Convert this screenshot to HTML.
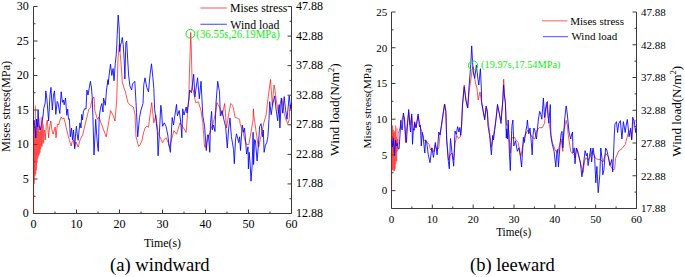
<!DOCTYPE html>
<html><head><meta charset="utf-8"><style>
html,body{margin:0;padding:0;background:#fff;}
svg{display:block;}
text{font-family:"Liberation Serif", serif;fill:#000;}
</style></head><body>
<svg width="685" height="277" viewBox="0 0 685 277">
<rect width="685" height="277" fill="#fff"/>
<path d="M33.5 6.5V213.5H291.5V6.5" fill="none" stroke="#3a3a3a" stroke-width="1"/>
<line x1="33.5" y1="213.5" x2="33.5" y2="209.5" stroke="#3a3a3a"/>
<line x1="55" y1="213.5" x2="55" y2="211.5" stroke="#3a3a3a"/>
<line x1="76.5" y1="213.5" x2="76.5" y2="209.5" stroke="#3a3a3a"/>
<line x1="98" y1="213.5" x2="98" y2="211.5" stroke="#3a3a3a"/>
<line x1="119.5" y1="213.5" x2="119.5" y2="209.5" stroke="#3a3a3a"/>
<line x1="141" y1="213.5" x2="141" y2="211.5" stroke="#3a3a3a"/>
<line x1="162.5" y1="213.5" x2="162.5" y2="209.5" stroke="#3a3a3a"/>
<line x1="184" y1="213.5" x2="184" y2="211.5" stroke="#3a3a3a"/>
<line x1="205.5" y1="213.5" x2="205.5" y2="209.5" stroke="#3a3a3a"/>
<line x1="227" y1="213.5" x2="227" y2="211.5" stroke="#3a3a3a"/>
<line x1="248.5" y1="213.5" x2="248.5" y2="209.5" stroke="#3a3a3a"/>
<line x1="270" y1="213.5" x2="270" y2="211.5" stroke="#3a3a3a"/>
<line x1="291.5" y1="213.5" x2="291.5" y2="209.5" stroke="#3a3a3a"/>
<line x1="33.5" y1="196.25" x2="35.5" y2="196.25" stroke="#3a3a3a"/>
<line x1="33.5" y1="179" x2="37.5" y2="179" stroke="#3a3a3a"/>
<line x1="33.5" y1="161.75" x2="35.5" y2="161.75" stroke="#3a3a3a"/>
<line x1="33.5" y1="144.5" x2="37.5" y2="144.5" stroke="#3a3a3a"/>
<line x1="33.5" y1="127.25" x2="35.5" y2="127.25" stroke="#3a3a3a"/>
<line x1="33.5" y1="110" x2="37.5" y2="110" stroke="#3a3a3a"/>
<line x1="33.5" y1="92.75" x2="35.5" y2="92.75" stroke="#3a3a3a"/>
<line x1="33.5" y1="75.5" x2="37.5" y2="75.5" stroke="#3a3a3a"/>
<line x1="33.5" y1="58.25" x2="35.5" y2="58.25" stroke="#3a3a3a"/>
<line x1="33.5" y1="41" x2="37.5" y2="41" stroke="#3a3a3a"/>
<line x1="33.5" y1="23.75" x2="35.5" y2="23.75" stroke="#3a3a3a"/>
<line x1="33.5" y1="6.5" x2="37.5" y2="6.5" stroke="#3a3a3a"/>
<line x1="291.5" y1="198.71" x2="289.5" y2="198.71" stroke="#3a3a3a"/>
<line x1="291.5" y1="183.93" x2="287.5" y2="183.93" stroke="#3a3a3a"/>
<line x1="291.5" y1="169.14" x2="289.5" y2="169.14" stroke="#3a3a3a"/>
<line x1="291.5" y1="154.36" x2="287.5" y2="154.36" stroke="#3a3a3a"/>
<line x1="291.5" y1="139.57" x2="289.5" y2="139.57" stroke="#3a3a3a"/>
<line x1="291.5" y1="124.79" x2="287.5" y2="124.79" stroke="#3a3a3a"/>
<line x1="291.5" y1="110" x2="289.5" y2="110" stroke="#3a3a3a"/>
<line x1="291.5" y1="95.21" x2="287.5" y2="95.21" stroke="#3a3a3a"/>
<line x1="291.5" y1="80.43" x2="289.5" y2="80.43" stroke="#3a3a3a"/>
<line x1="291.5" y1="65.64" x2="287.5" y2="65.64" stroke="#3a3a3a"/>
<line x1="291.5" y1="50.86" x2="289.5" y2="50.86" stroke="#3a3a3a"/>
<line x1="291.5" y1="36.07" x2="287.5" y2="36.07" stroke="#3a3a3a"/>
<line x1="291.5" y1="21.29" x2="289.5" y2="21.29" stroke="#3a3a3a"/>
<line x1="291.5" y1="6.5" x2="287.5" y2="6.5" stroke="#3a3a3a"/>
<path d="M391.5 12V208.5H636.5V12" fill="none" stroke="#3a3a3a" stroke-width="1"/>
<line x1="391.5" y1="208.5" x2="391.5" y2="204.5" stroke="#3a3a3a"/>
<line x1="411.92" y1="208.5" x2="411.92" y2="206.5" stroke="#3a3a3a"/>
<line x1="432.33" y1="208.5" x2="432.33" y2="204.5" stroke="#3a3a3a"/>
<line x1="452.75" y1="208.5" x2="452.75" y2="206.5" stroke="#3a3a3a"/>
<line x1="473.17" y1="208.5" x2="473.17" y2="204.5" stroke="#3a3a3a"/>
<line x1="493.58" y1="208.5" x2="493.58" y2="206.5" stroke="#3a3a3a"/>
<line x1="514" y1="208.5" x2="514" y2="204.5" stroke="#3a3a3a"/>
<line x1="534.42" y1="208.5" x2="534.42" y2="206.5" stroke="#3a3a3a"/>
<line x1="554.83" y1="208.5" x2="554.83" y2="204.5" stroke="#3a3a3a"/>
<line x1="575.25" y1="208.5" x2="575.25" y2="206.5" stroke="#3a3a3a"/>
<line x1="595.67" y1="208.5" x2="595.67" y2="204.5" stroke="#3a3a3a"/>
<line x1="616.08" y1="208.5" x2="616.08" y2="206.5" stroke="#3a3a3a"/>
<line x1="636.5" y1="208.5" x2="636.5" y2="204.5" stroke="#3a3a3a"/>
<line x1="391.5" y1="190.64" x2="395.5" y2="190.64" stroke="#3a3a3a"/>
<line x1="391.5" y1="172.77" x2="393.5" y2="172.77" stroke="#3a3a3a"/>
<line x1="391.5" y1="154.91" x2="395.5" y2="154.91" stroke="#3a3a3a"/>
<line x1="391.5" y1="137.05" x2="393.5" y2="137.05" stroke="#3a3a3a"/>
<line x1="391.5" y1="119.18" x2="395.5" y2="119.18" stroke="#3a3a3a"/>
<line x1="391.5" y1="101.32" x2="393.5" y2="101.32" stroke="#3a3a3a"/>
<line x1="391.5" y1="83.45" x2="395.5" y2="83.45" stroke="#3a3a3a"/>
<line x1="391.5" y1="65.59" x2="393.5" y2="65.59" stroke="#3a3a3a"/>
<line x1="391.5" y1="47.73" x2="395.5" y2="47.73" stroke="#3a3a3a"/>
<line x1="391.5" y1="29.86" x2="393.5" y2="29.86" stroke="#3a3a3a"/>
<line x1="391.5" y1="12" x2="395.5" y2="12" stroke="#3a3a3a"/>
<line x1="636.5" y1="192.12" x2="634.5" y2="192.12" stroke="#3a3a3a"/>
<line x1="636.5" y1="175.75" x2="632.5" y2="175.75" stroke="#3a3a3a"/>
<line x1="636.5" y1="159.38" x2="634.5" y2="159.38" stroke="#3a3a3a"/>
<line x1="636.5" y1="143" x2="632.5" y2="143" stroke="#3a3a3a"/>
<line x1="636.5" y1="126.63" x2="634.5" y2="126.63" stroke="#3a3a3a"/>
<line x1="636.5" y1="110.25" x2="632.5" y2="110.25" stroke="#3a3a3a"/>
<line x1="636.5" y1="93.88" x2="634.5" y2="93.88" stroke="#3a3a3a"/>
<line x1="636.5" y1="77.5" x2="632.5" y2="77.5" stroke="#3a3a3a"/>
<line x1="636.5" y1="61.13" x2="634.5" y2="61.13" stroke="#3a3a3a"/>
<line x1="636.5" y1="44.75" x2="632.5" y2="44.75" stroke="#3a3a3a"/>
<line x1="636.5" y1="28.38" x2="634.5" y2="28.38" stroke="#3a3a3a"/>
<line x1="636.5" y1="12" x2="632.5" y2="12" stroke="#3a3a3a"/>
<path d="M33.5,213 33.6,205.5 33.96,125.8 34.32,183.7 34.68,126.9 35.04,176.1 35.4,105.5 35.76,174.2 36.12,131.1 36.48,170.2 36.84,120.2 37.2,162.8 37.56,124.5 37.92,158.2 38.28,124.6 38.64,156.1 39,118.7 39.36,154.3 39.72,131.6 40.08,152.8 40.44,129.3 40.8,149.3 41.16,117.2 41.52,146.3 41.88,126.6 42.24,146.6 42.6,116.6 42.96,143.6 43.32,124.5 43.68,143.3 44.04,131.8 44.4,130" fill="none" stroke="#ff0000" stroke-width="0.45" stroke-linejoin="round" stroke-opacity="0.85"/>
<path d="M44.4,130 45.2,140 46.4,123.8 47.3,120 48.6,137.8 49.5,128 50.8,121 51.7,128.9 53.1,134 54.3,130 55.2,127 56,137.8 57.4,124 58.9,124.5 60,120 61.3,117 62.4,119 63.9,118 65.4,123.8 66.8,130.3 68.3,136.1 69.4,140.3 71.2,146 72,142 73.5,140 74.7,147.3 76,142 78.2,147 80,140 82.6,135 86,121 88.7,109.6 90.4,107.9 92,100 93,98 94,97 94.8,110.5 97.4,119.3 99,117 101,122.8 103.6,129.8 106.2,136.8 108,126.3 110.6,110.5 113.2,115.8 115,121 116.7,100 118,58 119.3,44.5 120.6,58 121.5,70 122.3,82 124.6,90 125.3,91.2 127.2,99.7 128,102.6 130,105 133.4,107 135,114 136,136.8 138.6,146.4 140,145 142,140.3 143.5,133 145,128 146.8,126.3 148.5,127.2 150,115 151.7,102.6 152.5,110 153.8,122.8 155.9,114.9 158.1,133.3 159.9,136.8 162.5,142.6 164,140 166,137.7 168,142 169.5,147 170.4,143.8 173.9,130.7 176.5,134.2 180,122.8 183.5,128 186.2,132.4 187.9,108.8 188.8,100 189.5,70 190.4,45 190.7,32.5 191.2,45 191.8,70 192.5,90 193.2,90 195,99.7 195.8,102.6 198.4,101.8 201,110.5 202.8,122.8 204.6,147 205.4,147.3 208,138.5 210.7,129.8 213.3,122.8 216,110.5 216.8,102.6 219.5,107 222.1,115.8 224.7,103.5 226.5,128 228.5,115 230.8,103.5 232.6,105.3 233.6,108.9 235,117.2 236.1,117.5 238,118.6 239.6,119.3 240.1,123.7 243,132.3 245.2,141 246.6,144.6 248.8,144.6 251,132.3 253.1,119.3 253.4,108.9 253.8,115 256,130.9 258.2,146.1 258.9,147 259.6,142.5 261.8,132.3 264,122.2 266.1,115 267.6,101.7 270.5,79.5 272.3,105 274,85 275,90 276.2,100 278.4,113.2 280.6,101.7 282,98.8 284.2,113.2 286.4,120.8 287.8,123.7 289.2,119.3 290,104.6 291.5,110" fill="none" stroke="#ff0000" stroke-width="0.9" stroke-linejoin="round" stroke-opacity="0.75"/>
<path d="M33.5,125 34,120 35,129 35.8,138 36.5,119 37.5,127 38.1,109.6 38.8,124 40.1,130 41.6,124.5 43,116 43.7,108.7 45.2,103 45.8,90.9 47,100 48.6,121 50,95 51,87.4 52.3,110 53.5,95 54.5,90.9 55.8,114.4 57.2,101.4 58,103 59.8,113.5 61.2,91.8 62.4,102.3 63.3,100 64.2,104.8 65.5,98 66.8,115.3 67.7,109 68.5,119.3 69.4,118.8 70.3,136.8 71.5,128 72.5,140 73.5,130 74.7,148.8 75.5,135 76.4,126.3 77.3,135 78.2,140.3 79.1,130 80,122.8 81,128 81.7,114.4 82.5,120 83.4,111.8 84.5,108.8 86,109 86.9,90 88,95 90.4,81.3 91.5,88 92.2,97 93,120 94,155 95,135 95.7,119.3 96.7,135 97.5,145 98.3,151.4 99.2,117.5 100.5,108 101.8,103.5 103,112 103.6,98 105.3,105.3 106.5,90 108,79.5 108.1,84.7 109.5,72 110.5,64.1 111.8,75.5 113.1,68.5 114,80.8 115.3,63.3 116.2,55 116.8,45 117.2,34.3 118.2,15 119.2,28 119.7,51.5 120.5,45 121.5,41.9 122.3,37.5 123.2,44.5 124.2,60 124.9,79 125.8,42.8 126.7,41 127.6,58 128.6,74.9 129.9,86 130.8,88 131.6,90 132.5,84 133.4,83 134.8,81.3 136,102.3 136.5,112.3 137.7,136.8 139.5,117.5 141,110 143,103.5 143.8,84.7 145,77.8 146.8,87.4 148.5,91.8 150,75 151.5,63.8 152.9,77.8 153.8,88.3 154.6,108.8 155.5,115.8 157.3,131.5 158.1,155.8 159,140 160.8,105.3 161.5,110 162.5,126.3 164.3,122.8 166,126.3 167.8,135 169,145 170.4,152.3 171,140 172.2,117.5 173.5,125 174.5,118 176.5,104.4 177.4,115.8 179.2,110.5 180.2,118 181,125 181.8,137.7 182.7,108.8 184,115 186.2,107 187,113 188.8,100 189.7,90 191.4,92.7 193.7,74.3 194.9,97 196.5,85 197.6,77.8 199.3,98.8 201,81.3 202,100 202.8,115.8 204.6,126.3 206.3,150.5 207.5,135 208.5,135 209.8,152.3 210.5,122.8 211.6,111.4 212.4,129.8 213.5,125 215,131.5 216,103 217.7,81.3 219.5,91.8 220.3,115.8 222.1,110.5 223.8,119.3 225.6,126.3 227.3,147.9 228.5,130 230,117.9 231.4,136.7 233.6,149.7 234.3,163.7 235.5,140 236.5,133.8 238.7,142.5 239.6,136.8 240.5,150.5 241.5,135 242.3,125.1 243.7,132.3 244.5,128 245.5,140 246.6,154 248,146.8 248.4,168.9 249.2,152.3 250.2,165 251,181.2 252.2,165 253.1,132.3 253.6,164.5 254.6,139.6 255.4,140.3 256.2,150 257.1,161 258.2,148 259.6,126.6 261.1,123.7 262.5,136.7 263.3,130 264.1,152.3 265.4,145.3 266.8,142.5 267.9,136.7 269,119.3 269.7,101.7 271.2,114.7 272.5,105 274.8,95.9 276,108.9 277.7,120.8 279.1,104.6 279.9,128 281.3,98 282.7,113.2 284.2,96.6 285.6,110.3 287,119.3 289.2,95.9 290.7,108.9 291.5,103" fill="none" stroke="#0000ff" stroke-width="1.0" stroke-linejoin="round" stroke-opacity="0.85"/>
<path d="M391.5,191 391.6,185.4 391.96,126.4 392.32,170.2 392.68,125.2 393.04,169.8 393.4,129.9 393.76,171.3 394.12,132.1 394.48,170.9 394.84,130.9 395.2,169.2 395.56,125.5 395.92,163.8 396.28,137.2 396.64,161.3 397,127.6 397.36,151.5 397.72,139.2 398.08,144.5 398.5,133" fill="none" stroke="#ff0000" stroke-width="0.45" stroke-linejoin="round" stroke-opacity="0.85"/>
<path d="M398.5,133 400,128 401.1,122 402.5,118 403.4,115 404.6,122 405.5,142.5 406.5,130 408.7,112 409.9,125 411.7,116 413.4,130 414.6,123 416,127 418.1,116 420.4,127 422.2,133 424,140 426.5,142 429.2,144.3 430.5,150 432,148 434,152 435.3,145 437,150 438.8,147.8 440,135 441.4,127 443.2,114 444.9,104.3 446,112 446.7,138 448.4,160 450,155 452,153 453.7,160 455,144 456.8,135.4 458.5,138.4 460.3,137.1 461.5,128 462.5,105 464.2,85 466,100 467.7,108 469.1,92 470.8,80 472.2,70 473,66.6 474.3,75.4 475.5,83 476.9,88 478.2,100 480,92 481.7,103 483.5,113 484.7,118 486.1,108 487.5,115 489,128 491.4,146.9 493.1,137 494.9,127 497.5,106 499.2,113 501,120 502.8,100 503.7,79.2 504.5,95 505.4,104 506.5,125 508.2,125 510.3,153 511.7,138 514.6,137.3 516,140 518.1,142.5 520.8,156.5 523.4,142.5 525,135 527.8,130.3 530,133 532,137 534.8,139 537,130 539.5,127.6 542.3,127.6 544.5,123.2 546.7,104.5 548.1,116 549.7,126.8 552.3,142.5 555.8,151.3 557.6,153 561.1,139 562.8,151.3 564,130 566.2,120.3 567.5,126 568.1,133.8 570.7,151.3 572,153 574.2,154.8 575,157.6 576.8,148 578.5,154.1 580.3,162.9 582.4,169.9 583,172.8 584.6,161.1 585.9,157.6 588.1,160.3 589.9,156.8 592.5,150.6 593.8,154.1 595.6,158.5 597.8,159.4 600.4,159.4 603,162 605.6,153.3 608.3,156.8 610,165.5 611.8,168.1 613.6,169.9 614.7,168.8 615.5,158.5 618.7,150.9 621.9,148.7 625.2,144.4 628.4,132.5 630.6,130.3 631.7,139 633.4,121.7 634.9,120.6 636,121" fill="none" stroke="#ff0000" stroke-width="0.9" stroke-linejoin="round" stroke-opacity="0.75"/>
<path d="M391.5,140 392.5,147 393.3,138 394.5,155.8 395.5,140 396.3,146 397.3,143.3 398.3,149 399.1,148.8 400,135 400.8,120.3 401.5,128 402.2,130 403.4,113 404.6,120 405.5,135 406.4,142.5 407.5,125 408.7,109.5 409.9,125.3 410.5,132 411.7,113.9 412.5,144.3 413.4,128.8 414.3,130.3 414.6,121.8 416,128 418.1,113.9 419.5,126.8 420.4,125.3 421.3,146 422.2,132.3 423,135.5 424.8,153 425.6,140 426.5,140.8 428.3,154.8 430,162.7 431.8,147.8 433.5,157.4 435.3,142.5 437.1,154.8 438.8,132 440,135 441.4,125.3 443.2,113 444.4,104.3 445.8,111.3 446.7,140.8 448.4,161.8 449.3,168.8 450.5,138.5 452,153 453.7,166.2 455,131 456.3,134.5 457.6,126.6 458.9,131.9 459.8,127.5 460.7,135.4 461.6,124 462.5,105 464.2,86.8 466,100.8 467.7,107.8 469.1,86 470.8,64.3 471.7,45.9 472.6,62.5 473.4,73 474.7,78.3 476.4,65.2 477.8,78.3 478.8,85 480.4,68.7 481.3,88 481.7,102.5 483.5,113 484.7,120 486.1,106 487.5,111.3 487.9,125 489.6,135.5 491.4,154.8 492.7,135.4 493.5,140 494.8,129.3 496.2,118 497.5,104.3 499.2,113 501,123.5 502.8,100.8 503.6,85 504.3,95 505.4,102.5 506.3,138.1 506.8,128.8 507.5,139 508.2,120 509.4,153 510.3,170.5 511.7,130.3 512,125.3 512.9,120 513.8,146 515.5,140.8 517.3,151.3 519,147.8 520.4,156.5 521.6,167 523.4,137.3 524.3,142.5 526,130.3 526.9,125.3 527.4,120 528.7,133.8 530,128 531.3,142.5 532.2,154.8 533,135.5 533.9,128 534.8,130.3 536.5,139 538.3,120 539.7,111.3 540.9,114.8 541.8,119.2 543.4,98 544.5,117.5 546.4,103 547.4,101.6 548.1,116 548.8,123.2 550.3,104.5 550.8,135.5 552.3,144.3 554.1,151.3 555.8,167 557,150 557.6,149.5 558.4,167 560.2,142.5 561.1,133.8 562,131.4 562.8,147.8 564.7,118.9 566.2,105.9 567.2,113.1 569,132 570.7,139 571.5,135 572.5,132 573,153 574.2,147.8 575,163.8 576.3,148 577.5,151 578.9,156.8 580.3,162 581.9,176.8 582.9,169.9 584,160 585.1,150.6 586.4,155.9 587.3,153.3 588.1,165.5 589.4,156.8 590.8,148 591.6,162 593,148 594.7,158.5 595.8,182.8 596.9,166.4 598.2,192.7 599.8,174.8 600.8,148 602.1,159.4 602.8,174.8 603.9,169.9 605.6,148 606.8,150 608.3,156.8 610,165.5 611.8,159.4 612.7,172 613.8,148 614.3,135 615,123.8 616.5,121.7 617.6,132.5 618.7,123.8 620.4,120.6 621.9,139 623.4,121.7 625.2,132.5 626,126 627.3,119.5 629.1,136.8 630.6,128.2 631.7,140 632.7,117.3 634.3,121.7 635.6,132.5 636,128" fill="none" stroke="#0000ff" stroke-width="1.0" stroke-linejoin="round" stroke-opacity="0.85"/>
<text x="28.7" y="217" text-anchor="end" font-size="12">0</text>
<text x="28.7" y="182.5" text-anchor="end" font-size="12">5</text>
<text x="28.7" y="148" text-anchor="end" font-size="12">10</text>
<text x="28.7" y="113.5" text-anchor="end" font-size="12">15</text>
<text x="28.7" y="79" text-anchor="end" font-size="12">20</text>
<text x="28.7" y="44.5" text-anchor="end" font-size="12">25</text>
<text x="28.7" y="10" text-anchor="end" font-size="12">30</text>
<text x="296.1" y="217" font-size="12">12.88</text>
<text x="296.1" y="187.43" font-size="12">17.88</text>
<text x="296.1" y="157.86" font-size="12">22.88</text>
<text x="296.1" y="128.29" font-size="12">27.88</text>
<text x="296.1" y="98.71" font-size="12">32.88</text>
<text x="296.1" y="69.14" font-size="12">37.88</text>
<text x="296.1" y="39.57" font-size="12">42.88</text>
<text x="296.1" y="10" font-size="12">47.88</text>
<text x="33.5" y="227.5" text-anchor="middle" font-size="12">0</text>
<text x="76.5" y="227.5" text-anchor="middle" font-size="12">10</text>
<text x="119.5" y="227.5" text-anchor="middle" font-size="12">20</text>
<text x="162.5" y="227.5" text-anchor="middle" font-size="12">30</text>
<text x="205.5" y="227.5" text-anchor="middle" font-size="12">40</text>
<text x="248.5" y="227.5" text-anchor="middle" font-size="12">50</text>
<text x="291.5" y="227.5" text-anchor="middle" font-size="12">60</text>
<text x="387.3" y="194.44" text-anchor="end" font-size="11">0</text>
<text x="387.3" y="158.71" text-anchor="end" font-size="11">5</text>
<text x="387.3" y="122.98" text-anchor="end" font-size="11">10</text>
<text x="387.3" y="87.25" text-anchor="end" font-size="11">15</text>
<text x="387.3" y="51.53" text-anchor="end" font-size="11">20</text>
<text x="387.3" y="15.8" text-anchor="end" font-size="11">25</text>
<text x="641.1" y="212.3" font-size="11">17.88</text>
<text x="641.1" y="179.55" font-size="11">22.88</text>
<text x="641.1" y="146.8" font-size="11">27.88</text>
<text x="641.1" y="114.05" font-size="11">32.88</text>
<text x="641.1" y="81.3" font-size="11">37.88</text>
<text x="641.1" y="48.55" font-size="11">42.88</text>
<text x="641.1" y="15.8" font-size="11">47.88</text>
<text x="391.5" y="222.5" text-anchor="middle" font-size="11">0</text>
<text x="432.33" y="222.5" text-anchor="middle" font-size="11">10</text>
<text x="473.17" y="222.5" text-anchor="middle" font-size="11">20</text>
<text x="514" y="222.5" text-anchor="middle" font-size="11">30</text>
<text x="554.83" y="222.5" text-anchor="middle" font-size="11">40</text>
<text x="595.67" y="222.5" text-anchor="middle" font-size="11">50</text>
<text x="636.5" y="222.5" text-anchor="middle" font-size="11">60</text>
<text x="143.9" y="247.3" font-size="12.6" textLength="37.2" lengthAdjust="spacingAndGlyphs">Time(s)</text>
<text x="496.2" y="236.1" font-size="12" textLength="35" lengthAdjust="spacingAndGlyphs">Time(s)</text>
<text transform="translate(10.1,106.4) rotate(-90)" text-anchor="middle" font-size="12.3">Mises stress(MPa)</text>
<text transform="translate(371,106.3) rotate(-90)" text-anchor="middle" font-size="11.4">Mises stress(MPa)</text>
<text transform="translate(339.3,109.6) rotate(-90)" text-anchor="middle" font-size="13.4">Wind load(N/m<tspan dy="-5" font-size="8.5">2</tspan><tspan dy="5">)</tspan></text>
<text transform="translate(681.3,111.3) rotate(-90)" text-anchor="middle" font-size="13.1">Wind load(N/m<tspan dy="-5" font-size="8.5">2</tspan><tspan dy="5">)</tspan></text>
<line x1="200.4" y1="8" x2="226.9" y2="8" stroke="#ff7070" stroke-width="1.2"/>
<text x="230" y="12.3" font-size="11.8">Mises stress</text>
<line x1="200.4" y1="24.3" x2="226.9" y2="24.3" stroke="#6060ff" stroke-width="1.2"/>
<text x="230.3" y="28.5" font-size="11.8">Wind load</text>
<line x1="542" y1="20.8" x2="567.4" y2="20.8" stroke="#ff8080" stroke-width="1.3"/>
<text x="570.2" y="24.6" font-size="11.4" textLength="53.8" lengthAdjust="spacingAndGlyphs">Mises stress</text>
<line x1="543" y1="36.6" x2="568" y2="36.6" stroke="#7070ff" stroke-width="1.3"/>
<text x="571.4" y="40.3" font-size="11.4" textLength="45.8" lengthAdjust="spacingAndGlyphs">Wind load</text>
<circle cx="190.4" cy="33.8" r="4.4" fill="none" stroke="#11ee11" stroke-width="1"/>
<text x="196.3" y="37.8" font-size="11.6" textLength="83.5" lengthAdjust="spacingAndGlyphs" style="fill:#11ee11">(36.55s,26.19MPa)</text>
<circle cx="473.1" cy="65.5" r="4.6" fill="none" stroke="#11ee11" stroke-width="1"/>
<text x="481.1" y="68.2" font-size="11.4" textLength="79.3" lengthAdjust="spacingAndGlyphs" style="fill:#11ee11">(19.97s,17.54MPa)</text>
<text x="110" y="271" font-size="18.6">(a) windward</text>
<text x="470" y="271" font-size="18.5">(b) leeward</text>
</svg></body></html>
